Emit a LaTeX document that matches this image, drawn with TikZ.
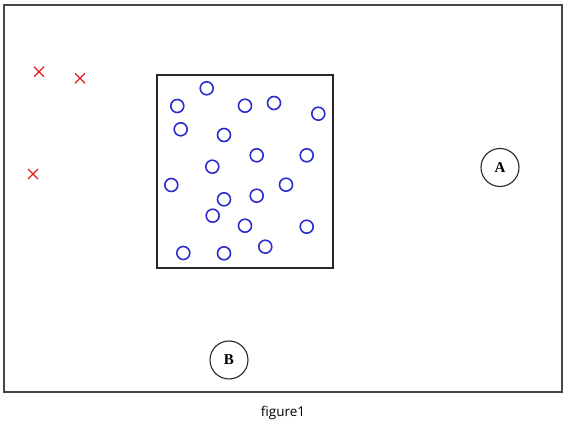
\documentclass[tikz,border=0pt]{standalone}
\usepackage{fontspec}
\setmainfont{Liberation Serif}
\newfontfamily\capfont{Open Sans}
\begin{document}
\begin{tikzpicture}[x=1pt,y=-1pt,
  dot/.style={circle,draw={rgb,255:red,45;green,45;blue,205},line width=1.6pt,minimum size=13pt,inner sep=0pt},
  cross/.style={draw={rgb,255:red,225;green,30;blue,40},line width=1.3pt},
  label/.style={circle,draw={rgb,255:red,40;green,40;blue,40},line width=1.1pt,minimum size=38pt,inner sep=0pt,font=\fontsize{15}{15}\selectfont\bfseries},
  box/.style={draw={rgb,255:red,70;green,70;blue,70},line width=1.3pt}]
\useasboundingbox (0,0) rectangle (566,435);
\draw[box] (4,5) rectangle (562,392);
\draw[box,draw={rgb,255:red,40;green,40;blue,40}] (157,75) rectangle (333,268);
\foreach \n/\x/\y in {1/206.7/88.3,2/177.3/106,3/245/105.7,4/274/103,5/318.3/113.7,
  6/180.7/129.3,7/224/135,8/256.7/155.3,9/306.7/155.3,10/212.3/166.7,
  11/171.3/185,12/286/184.7,13/224/199.3,14/256.7/195.7,15/212.7/215.7,
  16/245/225.7,17/306.7/226.7,18/265.3/246.7,19/183.3/253,20/224/253.3}
  {\node[dot] (c\n) at (\x,\y) {};}
\foreach \n/\x/\y in {1/39/71.7,2/80/78.3,3/33/174}
  {\coordinate (x\n) at (\x,\y);
   \draw[cross] ([shift={(-5,-5)}]x\n) -- ([shift={(5,5)}]x\n)
                ([shift={(-5,5)}]x\n) -- ([shift={(5,-5)}]x\n);}
\node[label] (A) at (500,167.5) {A};
\node[label] (B) at (229,360) {B};
\node[font=\capfont\fontsize{13.5}{14}\selectfont] (cap) at (283,413) {figure1};
\end{tikzpicture}
\end{document}
